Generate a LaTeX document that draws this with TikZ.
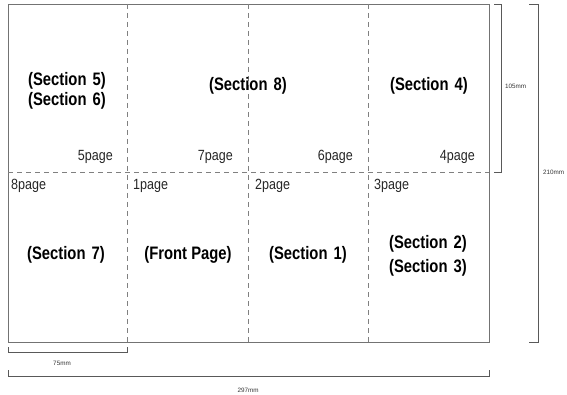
\documentclass[tikz,border=0pt]{standalone}
\usepackage{fontspec}
\usepackage{graphicx}
\setmainfont{Liberation Sans}
\newcommand{\tallsec}[1]{\scalebox{1}[1.22]{#1}}
\newcommand{\tallpg}[1]{\scalebox{0.95}[1.12]{#1}}
\begin{document}
\begin{tikzpicture}[x=1pt,y={(0,-1pt)},
  frame/.style={draw=black!55,line width=0.9pt},
  fold/.style={draw=black!50,line width=0.9pt,dash pattern=on 5pt off 4pt},
  dim/.style={draw=black!65,line width=0.8pt},
  sec/.style={font=\fontsize{14.8}{19}\selectfont\bfseries,align=center,inner sep=0pt},
  pg/.style={font=\fontsize{13.2}{14}\selectfont,inner sep=0pt,text=black!85},
  mm/.style={font=\fontsize{6.3}{7}\selectfont,inner sep=0pt,text=black!80}]
\useasboundingbox (0,0) rectangle (567,395);
% corners
\coordinate (tl) at (8,4);
\coordinate (br) at (489,342);
\draw[frame] (tl) rectangle (br);
% folds
\coordinate (v1t) at (127.5,4); \coordinate (v1b) at (127.5,342);
\coordinate (v2t) at (248,4);   \coordinate (v2b) at (248,342);
\coordinate (v3t) at (368,4);   \coordinate (v3b) at (368,342);
\coordinate (hl) at (8,172);    \coordinate (hr) at (489,172);
\draw[fold] (v1t) -- (v1b);
\draw[fold] (v2t) -- (v2b);
\draw[fold] (v3t) -- (v3b);
\draw[fold] (hl) -- (hr);
% section labels
\node[sec] (s5) at (67,81) {\tallsec{(Section\hspace{2pt} 5)}};
\node[sec] (s6) at (67,101) {\tallsec{(Section\hspace{2pt} 6)}};
\node[sec] (s8) at (248,86) {\tallsec{(Section\hspace{2pt} 8)}};
\node[sec] (s4) at (429,86) {\tallsec{(Section\hspace{2pt} 4)}};
\node[sec] (s7) at (66,255) {\tallsec{(Section\hspace{2pt} 7)}};
\node[sec] (sf) at (188,255) {\tallsec{(Front Page)}};
\node[sec] (s1) at (308,255) {\tallsec{(Section\hspace{2pt} 1)}};
\node[sec] (s2) at (428,244) {\tallsec{(Section\hspace{2pt} 2)}};
\node[sec] (s3) at (428,268) {\tallsec{(Section\hspace{2pt} 3)}};
% page labels
\node[pg,anchor=east] (p5) at (113,157) {\tallpg{5page}};
\node[pg,anchor=east] (p7) at (233,157) {\tallpg{7page}};
\node[pg,anchor=east] (p6) at (353,157) {\tallpg{6page}};
\node[pg,anchor=east] (p4) at (475,157) {\tallpg{4page}};
\node[pg,anchor=west] (p8) at (11,186) {\tallpg{8page}};
\node[pg,anchor=west] (p1) at (133,186) {\tallpg{1page}};
\node[pg,anchor=west] (p2) at (255,186) {\tallpg{2page}};
\node[pg,anchor=west] (p3) at (374,186) {\tallpg{3page}};
% dimension brackets bottom
\coordinate (a1) at (8,347); \coordinate (a2) at (8,352);
\coordinate (a3) at (127.5,352); \coordinate (a4) at (127.5,347);
\draw[dim] (a1) -- (a2) -- (a3) -- (a4);
\node[mm] (m75) at (62,363) {75mm};
\coordinate (b1) at (8,370); \coordinate (b2) at (8,376);
\coordinate (b3) at (489,376); \coordinate (b4) at (489,370);
\draw[dim] (b1) -- (b2) -- (b3) -- (b4);
\node[mm] (m297) at (248,390) {297mm};
% dimension brackets right
\coordinate (c1) at (494,4); \coordinate (c2) at (501,4);
\coordinate (c3) at (501,172); \coordinate (c4) at (494,172);
\draw[dim] (c1) -- (c2) -- (c3) -- (c4);
\node[mm,anchor=west] (m105) at (505,86) {105mm};
\coordinate (d1) at (529,4); \coordinate (d2) at (538,4);
\coordinate (d3) at (538,342); \coordinate (d4) at (529,342);
\draw[dim] (d1) -- (d2) -- (d3) -- (d4);
\node[mm,anchor=west] (m210) at (543,172) {210mm};
\end{tikzpicture}
\end{document}
